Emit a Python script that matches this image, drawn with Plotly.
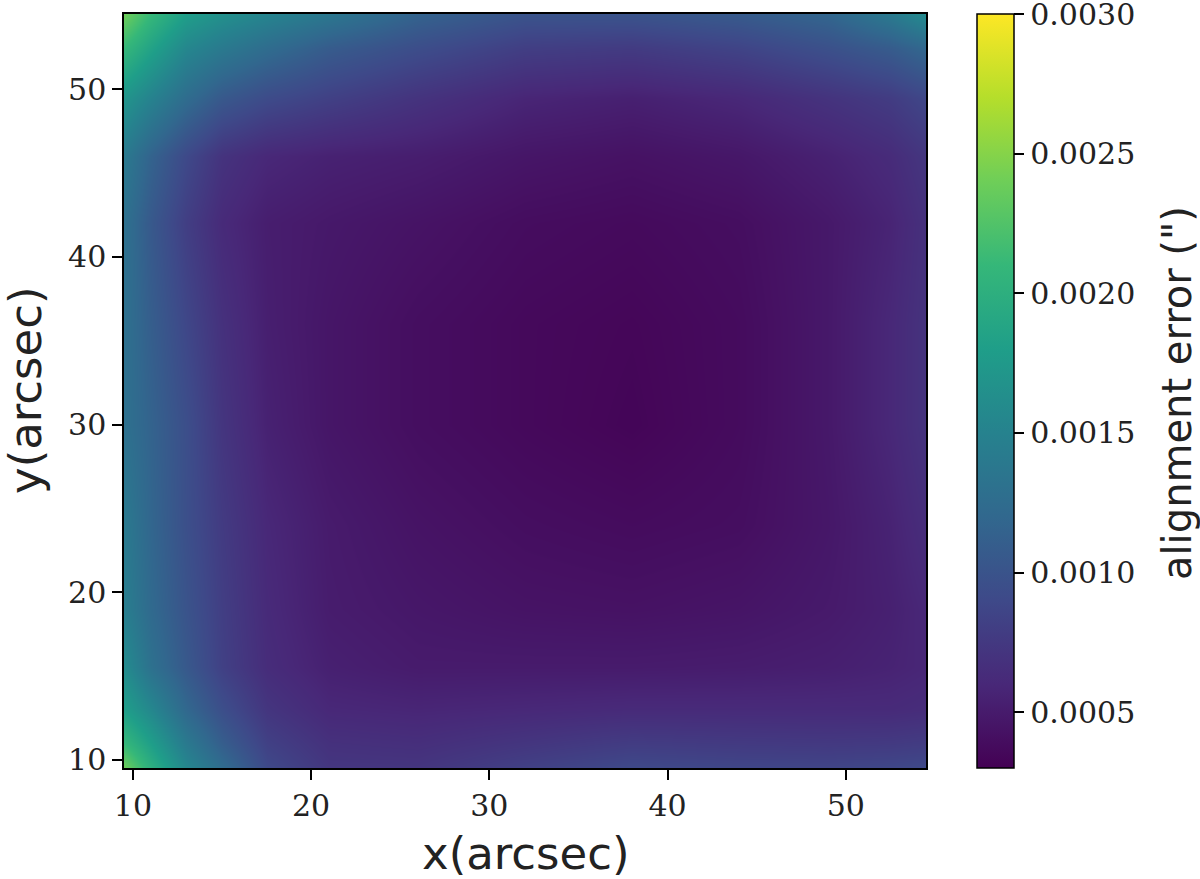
import plotly.graph_objects as go

# grid node positions (arcsec), denser near the edges where the error changes fast
x_arcsec = [9.5, 11, 13, 15, 17.5, 21, 26, 32, 38, 44, 49, 52.5, 54.5]
y_arcsec = [9.5, 11, 13, 15.5, 19, 24, 30, 36, 42, 46, 49.5, 52.5, 54.5]

# alignment error ("), one row per y node, bottom to top
err_y095 = [0.0024, 0.0020, 0.00155, 0.00125, 0.0009, 0.00073, 0.00072, 0.00082, 0.0009, 0.00087, 0.00086, 0.00088, 0.0009]
err_y110 = [0.0021, 0.0018, 0.0014, 0.0011, 0.00082, 0.00068, 0.00066, 0.00072, 0.00078, 0.00076, 0.00075, 0.00076, 0.00078]
err_y130 = [0.0018, 0.00155, 0.0012, 0.00095, 0.00072, 0.0006, 0.00058, 0.0006, 0.00062, 0.00062, 0.00062, 0.00062, 0.00064]
err_y155 = [0.0016, 0.0013, 0.00105, 0.00082, 0.00064, 0.00054, 0.0005, 0.0005, 0.0005, 0.00051, 0.00053, 0.00056, 0.00059]
err_y190 = [0.00145, 0.00122, 0.001, 0.0008, 0.00062, 0.00051, 0.00047, 0.00044, 0.00043, 0.00045, 0.00049, 0.00054, 0.0006]
err_y240 = [0.0014, 0.00118, 0.00096, 0.00077, 0.0006, 0.0005, 0.00044, 0.0004, 0.00038, 0.0004, 0.00047, 0.00056, 0.00065]
err_y300 = [0.0013, 0.00115, 0.00095, 0.00072, 0.00055, 0.00046, 0.0004, 0.00036, 0.00033, 0.00038, 0.00048, 0.0006, 0.0007]
err_y360 = [0.0013, 0.0011, 0.00088, 0.00068, 0.00053, 0.00046, 0.0004, 0.00036, 0.00034, 0.00038, 0.00048, 0.0006, 0.0007]
err_y420 = [0.0013, 0.00105, 0.0008, 0.00062, 0.00052, 0.00048, 0.00044, 0.00039, 0.00037, 0.0004, 0.00048, 0.00057, 0.00068]
err_y460 = [0.0014, 0.00115, 0.0009, 0.0007, 0.0006, 0.00055, 0.00052, 0.00046, 0.00043, 0.00047, 0.00055, 0.00063, 0.00073]
err_y495 = [0.0017, 0.0015, 0.00125, 0.00105, 0.00092, 0.00082, 0.0007, 0.00058, 0.00054, 0.0006, 0.0007, 0.00078, 0.00088]
err_y525 = [0.0021, 0.00185, 0.00155, 0.0014, 0.00125, 0.00108, 0.00094, 0.0008, 0.00077, 0.00085, 0.00097, 0.00108, 0.0012]
err_y545 = [0.0024, 0.0021, 0.0018, 0.00165, 0.00152, 0.00137, 0.00115, 0.001, 0.001, 0.00107, 0.00118, 0.0014, 0.0016]

alignment_error = [
    err_y095, err_y110, err_y130, err_y155, err_y190, err_y240, err_y300,
    err_y360, err_y420, err_y460, err_y495, err_y525, err_y545,
]

x_ticks = [10, 20, 30, 40, 50]
y_ticks = [10, 20, 30, 40, 50]
cbar_ticks = [0.0005, 0.0010, 0.0015, 0.0020, 0.0025, 0.0030]

SERIF = "DejaVu Serif"
SANS = "DejaVu Sans"

fig = go.Figure()
fig.add_trace(
    go.Heatmap(
        x=x_arcsec,
        y=y_arcsec,
        z=alignment_error,
        colorscale="Viridis",
        zmin=0.0003,
        zmax=0.0030,
        zsmooth="best",
        colorbar=dict(
            x=(977 - 124) / 802,
            xanchor="left",
            xpad=0,
            y=0.5,
            yanchor="middle",
            ypad=0,
            len=1,
            lenmode="fraction",
            thickness=37,
            thicknessmode="pixels",
            outlinecolor="black",
            outlinewidth=1.5,
            tickvals=cbar_ticks,
            ticktext=[f"{v:.4f}" for v in cbar_ticks],
            ticklabeloverflow="allow",
            ticks="outside",
            ticklen=10,
            tickwidth=1.5,
            tickcolor="black",
            tickfont=dict(family=SERIF, size=30, color="#222"),
        ),
        hovertemplate="x=%{x}<br>y=%{y}<br>error=%{z}<extra></extra>",
    )
)

axis_common = dict(
    showgrid=False,
    zeroline=False,
    showline=True,
    mirror=True,
    linecolor="black",
    linewidth=1.5,
    ticks="outside",
    ticklen=10,
    tickwidth=1.5,
    tickcolor="black",
    tickfont=dict(family=SERIF, size=30, color="#222"),
)

fig.update_layout(
    width=1200,
    height=879,
    template="plotly_white",
    plot_bgcolor="white",
    paper_bgcolor="white",
    margin={"l": 124, "r": 274, "t": 14, "b": 111},
    xaxis=dict(axis_common, range=[9.5, 54.5], tickvals=x_ticks),
    yaxis=dict(axis_common, range=[9.5, 54.5], tickvals=y_ticks),
    annotations=[
        dict(
            text="x(arcsec)", xref="paper", yref="paper",
            x=0.5, y=(768 - 853) / 754, xanchor="center", yanchor="middle",
            showarrow=False, font=dict(family=SANS, size=45, color="#222"),
        ),
        dict(
            text="y(arcsec)", xref="paper", yref="paper",
            x=(25 - 124) / 802, y=0.5, xanchor="center", yanchor="middle",
            textangle=-90, showarrow=False,
            font=dict(family=SANS, size=45, color="#222"),
        ),
        dict(
            text="alignment error (\")", xref="paper", yref="paper",
            x=(1177 - 124) / 802, y=(768 - 393) / 754, xanchor="center", yanchor="middle",
            textangle=-90, showarrow=False,
            font=dict(family=SANS, size=40, color="#222"),
        ),
    ],
)

# drop the default page margin so the figure sits at the window's top-left corner
fig.write_html(
    "out.html",
    config={"displayModeBar": False},
    post_script="document.body.style.margin = '0';",
)
